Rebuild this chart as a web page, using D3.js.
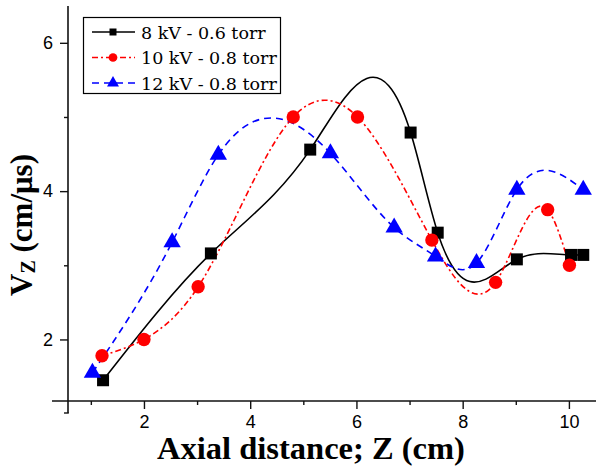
<!DOCTYPE html>
<html>
<head>
<meta charset="utf-8">
<script src="https://cdn.jsdelivr.net/npm/d3@7"></script>
<style>
  html, body { margin: 0; padding: 0; background: #fff; }
  svg { display: block; }
</style>
</head>
<body>
<svg id="chart" width="596" height="470"></svg>
<script>
// ---- data ----
const xBlack = [1.23, 3.26, 5.13, 7.02, 7.53, 9.02, 10.04, 10.27];
const yBlack = [1.45, 3.16, 4.56, 4.79, 3.44, 3.08, 3.14, 3.14];
const xRed   = [1.21, 2.0, 3.02, 4.81, 6.02, 7.42, 8.62, 9.6, 10.01];
const yRed   = [1.78, 2.0, 2.71, 5.0, 5.0, 3.34, 2.77, 3.75, 3.0];
const xBlue  = [1.03, 2.53, 3.40, 5.51, 6.71, 7.49, 8.26, 9.02, 10.27];
const yBlue  = [1.55, 3.31, 4.49, 4.51, 3.51, 3.12, 3.03, 4.02, 4.02];
const seriesNames = ["8 kV - 0.6 torr", "10 kV - 0.8 torr", "12 kV - 0.8 torr"];
const xTicks = [2, 4, 6, 8, 10];
const xMinorTicks = [1, 3, 5, 7, 9];
const yTicks = [2, 4, 6];
const yMinorTicks = [3, 5];

// ---- natural cubic spline in x, drawn as exact Bezier segments ----
function SplineX(context) { this._context = context; }
SplineX.prototype = {
  areaStart() {}, areaEnd() {},
  lineStart() { this._xs = []; this._ys = []; },
  point(x, y) { this._xs.push(+x); this._ys.push(+y); },
  lineEnd() {
    const X = this._xs, Y = this._ys, n = X.length, c = this._context;
    if (n === 0) return;
    c.moveTo(X[0], Y[0]);
    if (n === 1) return;
    if (n === 2) { c.lineTo(X[1], Y[1]); return; }
    const h = [], M = new Array(n).fill(0);
    for (let i = 0; i < n - 1; i++) h.push(X[i + 1] - X[i]);
    const a = [], b = [], cc = [], d = [];
    for (let i = 1; i < n - 1; i++) {
      a.push(h[i - 1]); b.push(2 * (h[i - 1] + h[i])); cc.push(h[i]);
      d.push(6 * ((Y[i + 1] - Y[i]) / h[i] - (Y[i] - Y[i - 1]) / h[i - 1]));
    }
    const m = b.length;
    for (let i = 1; i < m; i++) {
      const w = a[i] / b[i - 1];
      b[i] -= w * cc[i - 1];
      d[i] -= w * d[i - 1];
    }
    const sol = new Array(m);
    sol[m - 1] = d[m - 1] / b[m - 1];
    for (let i = m - 2; i >= 0; i--) sol[i] = (d[i] - cc[i] * sol[i + 1]) / b[i];
    for (let i = 0; i < m; i++) M[i + 1] = sol[i];
    for (let i = 0; i < n - 1; i++) {
      const hi = h[i];
      const s0 = (Y[i + 1] - Y[i]) / hi - hi * (2 * M[i] + M[i + 1]) / 6;
      const s1 = (Y[i + 1] - Y[i]) / hi + hi * (M[i] + 2 * M[i + 1]) / 6;
      c.bezierCurveTo(X[i] + hi / 3, Y[i] + s0 * hi / 3,
                      X[i + 1] - hi / 3, Y[i + 1] - s1 * hi / 3,
                      X[i + 1], Y[i + 1]);
    }
  }
};
const curveSplineX = ctx => new SplineX(ctx);

// ---- layout ----
const svg = d3.select("#chart");
const x = d3.scaleLinear().domain([0.57, 10.51]).range([68, 596]);
const y = d3.scaleLinear().domain([1.17, 6.51]).range([401, 5]);

const axisCol = "#111";
const g = svg.append("g");

g.append("line").attr("x1", 52).attr("x2", 596).attr("y1", 401).attr("y2", 401)
  .attr("stroke", axisCol).attr("stroke-width", 1.6);
g.append("line").attr("x1", 68).attr("x2", 68).attr("y1", 6).attr("y2", 413)
  .attr("stroke", axisCol).attr("stroke-width", 1.6);
g.append("line").attr("x1", 64).attr("x2", 68.8).attr("y1", 413).attr("y2", 413)
  .attr("stroke", axisCol).attr("stroke-width", 1.4);

const xAxis = d3.axisBottom(x).tickValues(xTicks).tickFormat(d3.format("d"))
  .tickSize(8).tickPadding(6).tickSizeOuter(0);
const gx = g.append("g").attr("transform", "translate(0,401)").call(xAxis);
gx.select(".domain").remove();
gx.selectAll(".tick line").attr("stroke", axisCol).attr("stroke-width", 1.4);
gx.selectAll(".tick text").attr("font-family", "Liberation Sans, Arial, sans-serif")
  .attr("font-size", 18).attr("fill", "#000");
const xMinor = d3.axisBottom(x).tickValues(xMinorTicks).tickSize(4).tickFormat("").tickSizeOuter(0);
const gxm = g.append("g").attr("transform", "translate(0,401)").call(xMinor);
gxm.select(".domain").remove();
gxm.selectAll(".tick line").attr("stroke", axisCol).attr("stroke-width", 1.4);

const yAxis = d3.axisLeft(y).tickValues(yTicks).tickFormat(d3.format("d"))
  .tickSize(8).tickPadding(7).tickSizeOuter(0);
const gy = g.append("g").attr("transform", "translate(68,0)").call(yAxis);
gy.select(".domain").remove();
gy.selectAll(".tick line").attr("stroke", axisCol).attr("stroke-width", 1.4);
gy.selectAll(".tick text").attr("font-family", "Liberation Sans, Arial, sans-serif")
  .attr("font-size", 18).attr("fill", "#000");
const yMinor = d3.axisLeft(y).tickValues(yMinorTicks).tickSize(4).tickFormat("").tickSizeOuter(0);
const gym = g.append("g").attr("transform", "translate(68,0)").call(yMinor);
gym.select(".domain").remove();
gym.selectAll(".tick line").attr("stroke", axisCol).attr("stroke-width", 1.4);

// axis titles
svg.append("text").attr("x", 311).attr("y", 459).attr("text-anchor", "middle")
  .attr("font-family", "Liberation Serif, Times New Roman, serif").attr("font-weight", "bold")
  .attr("font-size", 32.5).attr("fill", "#000").text("Axial distance; Z (cm)");

const yt = svg.append("text").attr("transform", "translate(32,225) rotate(-90)")
  .attr("text-anchor", "middle")
  .attr("font-family", "Liberation Serif, Times New Roman, serif").attr("font-weight", "bold")
  .attr("font-size", 31).attr("fill", "#000");
yt.append("tspan").text("V");
yt.append("tspan").attr("font-size", 20).attr("dy", 3).text("Z");
yt.append("tspan").attr("dy", -3).text(" (cm/μs)");

// ---- series ----
const series = [
  { xs: xBlack, ys: yBlack, color: "#000000", dash: null, sym: d3.symbolSquare, size: 144, lsize: 49 },
  { xs: xRed,   ys: yRed,   color: "#ff0000", dash: "6,3,2,3", sym: d3.symbolCircle, size: 140, lsize: 60 },
  { xs: xBlue,  ys: yBlue,  color: "#0000ff", dash: "7,5", sym: d3.symbolTriangle, size: 130, lsize: 62 }
];

const line = d3.line().x(d => x(d[0])).y(d => y(d[1])).curve(curveSplineX);

series.forEach(s => {
  const pts = s.xs.map((v, i) => [v, s.ys[i]]);
  svg.append("path").attr("d", line(pts)).attr("fill", "none")
    .attr("stroke", s.color).attr("stroke-width", 1.6)
    .attr("stroke-dasharray", s.dash);
});
series.forEach(s => {
  const pts = s.xs.map((v, i) => [v, s.ys[i]]);
  svg.append("g").selectAll("path").data(pts).join("path")
    .attr("transform", d => `translate(${x(d[0])},${y(d[1])})`)
    .attr("d", d3.symbol().type(s.sym).size(s.size))
    .attr("fill", s.color);
});

// ---- legend ----
const lg = svg.append("g");
lg.append("rect").attr("x", 83.5).attr("y", 17.5).attr("width", 197).attr("height", 76)
  .attr("fill", "#fff").attr("stroke", "#000").attr("stroke-width", 1.2);
series.forEach((s, i) => {
  const cy = 32 + i * 25.5;
  lg.append("line").attr("x1", 92).attr("x2", 135).attr("y1", cy).attr("y2", cy)
    .attr("stroke", s.color).attr("stroke-width", 1.6).attr("stroke-dasharray", s.dash);
  lg.append("path").attr("transform", `translate(113,${cy})`)
    .attr("d", d3.symbol().type(s.sym).size(s.lsize)).attr("fill", s.color);
  lg.append("text").attr("x", 141).attr("y", cy + 6.5)
    .attr("font-family", "DejaVu Serif, serif")
    .attr("font-size", 17.5).attr("fill", "#000").text(seriesNames[i]);
});
</script>
</body>
</html>
